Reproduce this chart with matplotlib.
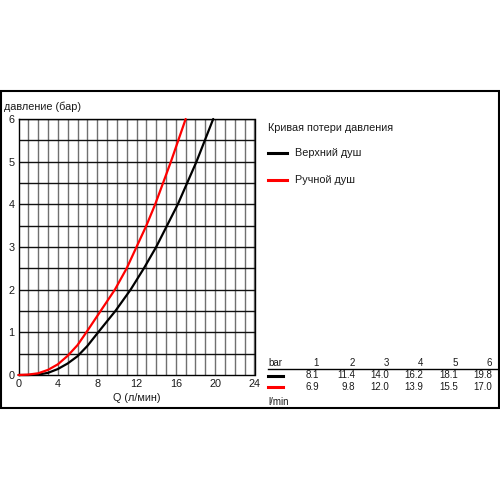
import matplotlib
matplotlib.use("Agg")
import matplotlib.pyplot as plt
from matplotlib.patches import Rectangle
from matplotlib.lines import Line2D

plt.rcParams['font.family'] = ['Liberation Sans', 'DejaVu Sans']

# Curves (Q l/min, pressure bar)
top_q = [0, 1, 2, 3, 4, 5, 6, 7, 8.1, 9.85, 11.4, 12.75, 14.0, 15.1, 16.2, 17.15, 18.1, 18.95, 19.8]
top_p = [0, 0.0, 0.01, 0.05, 0.14, 0.27, 0.44, 0.68, 1.0, 1.5, 2.0, 2.5, 3.0, 3.5, 4.0, 4.5, 5.0, 5.5, 6.0]
hand_q = [0, 1, 2, 3, 4, 5, 6, 6.9, 8.0, 9.8, 11.0, 12.0, 13.0, 13.9, 14.7, 15.5, 16.25, 17.0]
hand_p = [0, 0.01, 0.04, 0.12, 0.25, 0.45, 0.7, 1.0, 1.38, 2.0, 2.5, 3.0, 3.5, 4.0, 4.5, 5.0, 5.5, 6.0]

# Table
bar_vals = ["1", "2", "3", "4", "5", "6"]
top_flow = ["8.1", "11.4", "14.0", "16.2", "18.1", "19.8"]
hand_flow = ["6.9", "9.8", "12.0", "13.9", "15.5", "17.0"]

x_ticks = [0, 4, 8, 12, 16, 20, 24]
y_ticks = [0, 1, 2, 3, 4, 5, 6]

title = "Кривая потери давления"
series_names = ["Верхний душ", "Ручной душ"]
colors = ["#000000", "#ff0000"]

fig = plt.figure(figsize=(5, 5), dpi=100)
W = H = 500.0

def fx(px):
    return px / W

def fy(py):
    return 1 - py / H

txt = '#1a1a1a'

# outer frame
fig.patches.append(Rectangle((fx(0.8), fy(407.5)), fx(498.2), (407.5 - 91) / H,
                             transform=fig.transFigure, fill=False,
                             edgecolor='black', linewidth=1.5))

ax = fig.add_axes([fx(18.5), fy(375), (254.5 - 18.5) / W, (375 - 119) / H])
ax.set_xlim(0, 24)
ax.set_ylim(0, 6)
for q in range(1, 25):
    ax.axvline(q, color='#707070', lw=1.0, zorder=1)
for k in range(1, 13):
    ax.axhline(k * 0.5, color='#111111', lw=1.0, zorder=1)
for s in ax.spines.values():
    s.set_color('black')
    s.set_linewidth(1.0)
ax.set_xticks(x_ticks)
ax.set_yticks(y_ticks)
ax.tick_params(length=0, labelsize=7.8, pad=3, colors=txt)
ax.plot(top_q, top_p, color=colors[0], lw=1.6, zorder=3, clip_on=False,
        solid_joinstyle='round', solid_capstyle='round')
ax.plot(hand_q, hand_p, color=colors[1], lw=1.6, zorder=3, clip_on=False,
        solid_joinstyle='round', solid_capstyle='round')

fig.text(fx(4), fy(107), "давление (бар)", fontsize=7.8, va='center', ha='left', color=txt)
fig.text(fx(137), fy(398), "Q (л/мин)", fontsize=7.8, va='center', ha='center', color=txt)

# legend area
fig.text(fx(268), fy(128), title, fontsize=7.8, va='center', ha='left', color=txt)
for i, (name, c) in enumerate(zip(series_names, colors)):
    yy = 153 + i * 27
    fig.lines.append(Line2D([fx(268), fx(287)], [fy(yy), fy(yy)], transform=fig.transFigure,
                            color=c, lw=2.2))
    fig.text(fx(295), fy(yy), name, fontsize=7.8, va='center', ha='left', color=txt)

# table
col_x = [319, 355, 389, 423, 458, 492]
fs = 7.0
fig.text(fx(268), fy(363), "bar", fontsize=fs, va='center', ha='left', color=txt)
for xv, b in zip(col_x, bar_vals):
    fig.text(fx(xv), fy(363), b, fontsize=fs, va='center', ha='right', color=txt)
fig.lines.append(Line2D([fx(268), fx(497)], [fy(368.5), fy(368.5)], transform=fig.transFigure,
                        color='black', lw=1.0))
for row, (vals, c) in enumerate(zip([top_flow, hand_flow], colors)):
    yy = 375.5 + row * 11.5
    fig.lines.append(Line2D([fx(268), fx(283)], [fy(yy), fy(yy)], transform=fig.transFigure,
                            color=c, lw=2.2))
    for xv, v in zip(col_x, vals):
        fig.text(fx(xv), fy(yy), v, fontsize=fs, va='center', ha='right', color=txt)
fig.text(fx(268), fy(402), "l/min", fontsize=fs, va='center', ha='left', color=txt)

fig.savefig("out.png", dpi=100)
